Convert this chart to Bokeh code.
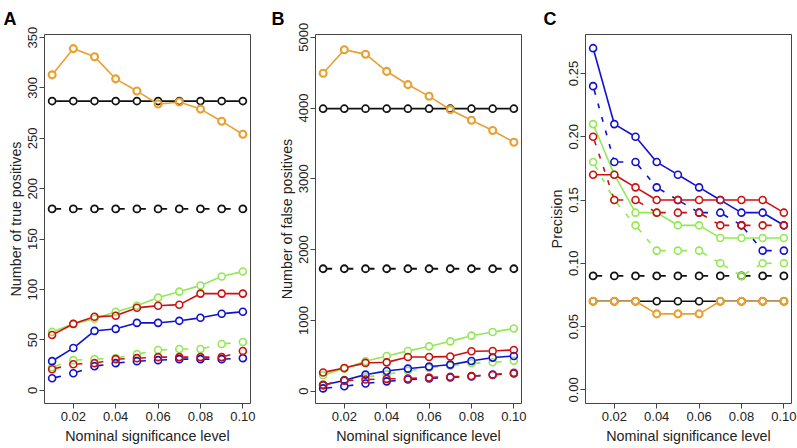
import numpy as np
from bokeh.plotting import figure
from bokeh.layouts import row
from bokeh.models import Range1d, FixedTicker, PrintfTickFormatter, Title
from bokeh.embed import file_html
from bokeh.resources import INLINE

# ---------------- data ----------------
alpha = [0.01, 0.02, 0.03, 0.04, 0.05, 0.06, 0.07, 0.08, 0.09, 0.10]
x_ticks = [0.02, 0.04, 0.06, 0.08, 0.10]

# Panel A: number of true positives
tp_black_solid = [287, 287, 287, 287, 287, 287, 287, 287, 287, 287]
tp_black_dash = [180, 180, 180, 180, 180, 180, 180, 180, 180, 180]
tp_green_solid = [58, 66, 71, 78, 84, 92, 98, 104, 113, 118]
tp_green_dash = [23, 30, 31, 32, 36, 40, 41, 41, 46, 48]
tp_blue_solid = [29, 42, 59, 61, 67, 67, 69, 72, 76, 78]
tp_blue_dash = [12, 17, 24, 27, 29, 30, 31, 31, 31, 32]
tp_red_solid = [55, 66, 73, 74, 82, 84, 85, 96, 96, 96]
tp_red_dash = [21, 26, 27, 31, 32, 33, 33, 33, 33, 39]
tp_orange = [313, 339, 331, 309, 297, 284, 286, 279, 267, 254]
tp_ticks = [0, 50, 100, 150, 200, 250, 300, 350]

# Panel B: number of false positives
fp_black_solid = [3990, 3990, 3990, 3990, 3990, 3990, 3990, 3990, 3990, 3990]
fp_black_dash = [1730, 1730, 1730, 1730, 1730, 1730, 1730, 1730, 1730, 1730]
fp_green_solid = [225, 320, 423, 498, 569, 634, 704, 785, 836, 887]
fp_green_dash = [90, 160, 200, 240, 290, 330, 360, 395, 410, 430]
fp_blue_solid = [85, 155, 235, 287, 320, 348, 376, 428, 475, 498]
fp_blue_dash = [40, 70, 110, 140, 165, 180, 195, 210, 235, 250]
fp_red_solid = [265, 329, 400, 408, 484, 484, 490, 565, 569, 583]
fp_red_dash = [90, 150, 165, 175, 180, 195, 205, 215, 230, 260]
fp_orange = [4490, 4822, 4760, 4517, 4330, 4165, 3977, 3827, 3682, 3517]
fp_ticks = [0, 1000, 2000, 3000, 4000, 5000]

# Panel C: precision
pr_black_solid = [0.07, 0.07, 0.07, 0.07, 0.07, 0.07, 0.07, 0.07, 0.07, 0.07]
pr_black_dash = [0.09, 0.09, 0.09, 0.09, 0.09, 0.09, 0.09, 0.09, 0.09, 0.09]
pr_green_solid = [0.21, 0.17, 0.14, 0.14, 0.13, 0.13, 0.12, 0.12, 0.12, 0.12]
pr_green_dash = [0.18, 0.15, 0.13, 0.11, 0.11, 0.11, 0.10, 0.09, 0.10, 0.10]
pr_blue_solid = [0.27, 0.21, 0.20, 0.18, 0.17, 0.16, 0.15, 0.14, 0.14, 0.13]
pr_blue_dash = [0.24, 0.18, 0.18, 0.16, 0.15, 0.14, 0.14, 0.13, 0.11, 0.11]
pr_red_solid = [0.17, 0.17, 0.16, 0.15, 0.15, 0.15, 0.15, 0.15, 0.15, 0.14]
pr_red_dash = [0.20, 0.15, 0.15, 0.14, 0.14, 0.14, 0.13, 0.13, 0.13, 0.13]
pr_orange = [0.07, 0.07, 0.07, 0.06, 0.06, 0.06, 0.07, 0.07, 0.07, 0.07]
pr_ticks = [0.0, 0.05, 0.10, 0.15, 0.20, 0.25]

x_title = "Nominal significance level"

# ---------------- style ----------------
BLACK = "#111111"
GREEN = "#93e853"
BLUE = "#1010d0"
RED = "#cc1010"
ORANGE = "#e8a030"
FONT = "Liberation Sans"
H = 448
TOP, BOT = 34, 45
XR = (0.0064, 0.1036)
DASH = "5 9"
RADIUS = 4.0


def make_fig(width, left, right, yr, yticks, ylabel, letter, letter_offset, yfmt=None):
    p = figure(width=width, height=H, output_backend="svg", toolbar_location=None,
               x_range=Range1d(*XR), y_range=Range1d(*yr),
               min_border_left=left, min_border_right=right,
               min_border_top=TOP, min_border_bottom=BOT)
    p.xgrid.visible = False
    p.ygrid.visible = False
    p.outline_line_color = "#444444"
    p.outline_line_width = 1
    p.background_fill_color = "white"
    p.border_fill_color = "white"
    for ax in (p.xaxis[0], p.yaxis[0]):
        ax.axis_line_color = None
        ax.major_tick_line_color = "#444444"
        ax.major_tick_in = 0
        ax.major_tick_out = 5
        ax.minor_tick_line_color = None
        ax.major_label_text_font = FONT
        ax.major_label_text_font_size = "13px"
        ax.major_label_text_color = "#222222"
        ax.axis_label_text_font = FONT
        ax.axis_label_text_font_size = "14.3px"
        ax.axis_label_text_font_style = "normal"
        ax.axis_label_text_color = "#222222"
        ax.major_label_standoff = 2
        ax.axis_label_standoff = 2
    p.xaxis[0].ticker = FixedTicker(ticks=x_ticks)
    p.xaxis[0].formatter = PrintfTickFormatter(format="%.2f")
    p.xaxis[0].major_label_standoff = 3
    p.xaxis[0].axis_label_standoff = 4
    p.xaxis[0].axis_label = x_title
    p.yaxis[0].ticker = FixedTicker(ticks=yticks)
    p.yaxis[0].major_label_orientation = "vertical"
    p.yaxis[0].axis_label = ylabel
    if yfmt:
        p.yaxis[0].formatter = PrintfTickFormatter(format=yfmt)
    p.add_layout(Title(text=letter, align="left", offset=letter_offset,
                       text_font=FONT, text_font_size="18px", text_font_style="bold",
                       text_color="black", standoff=11), "above")
    fw = width - left - right
    fh = H - TOP - BOT
    # pixels per data unit (approx frame size)
    p._sx = fw / (XR[1] - XR[0])
    p._sy = fh / (yr[1] - yr[0])
    return p


def series(p, ys, color, dashed, lw, mlw=None):
    x = np.array(alpha, dtype=float)
    y = np.array(ys, dtype=float)
    dx = np.diff(x)
    dy = np.diff(y)
    L = np.hypot(dx * p._sx, dy * p._sy)
    f = np.minimum(RADIUS / L, 0.45)
    p.segment(x[:-1] + f * dx, y[:-1] + f * dy, x[1:] - f * dx, y[1:] - f * dy,
              line_color=color, line_width=lw, line_dash=DASH if dashed else "solid")
    p.scatter(x, y, marker="circle", size=7, fill_color=None,
              line_color=color, line_width=mlw or lw)


def fill(p, d):
    bs, bd, gs, gd, us, ud, rs, rd, o = d
    series(p, bs, BLACK, False, 1.7)
    series(p, bd, BLACK, True, 1.8)
    series(p, gs, GREEN, False, 1.6)
    series(p, gd, GREEN, True, 1.6)
    series(p, us, BLUE, False, 1.6)
    series(p, ud, BLUE, True, 1.6)
    series(p, rs, RED, False, 1.6)
    series(p, rd, RED, True, 1.6)
    series(p, o, ORANGE, False, 1.6, 2.1)


pa = make_fig(265, 44, 15, (-13, 353), tp_ticks, "Number of true positives", "A", -41)
fill(pa, [tp_black_solid, tp_black_dash, tp_green_solid, tp_green_dash, tp_blue_solid,
          tp_blue_dash, tp_red_solid, tp_red_dash, tp_orange])

pb = make_fig(265, 50, 9, (-173, 5038), fp_ticks, "Number of false positives", "B", -44)
fill(pb, [fp_black_solid, fp_black_dash, fp_green_solid, fp_green_dash, fp_blue_solid,
          fp_blue_dash, fp_red_solid, fp_red_dash, fp_orange])

pc = make_fig(267, 55, 6, (-0.0108, 0.2808), pr_ticks, "Precision", "C", -42, yfmt="%.2f")
fill(pc, [pr_black_solid, pr_black_dash, pr_green_solid, pr_green_dash, pr_blue_solid,
          pr_blue_dash, pr_red_solid, pr_red_dash, pr_orange])

layout = row(pa, pb, pc, spacing=0)
open("out.html", "w").write(file_html(layout, INLINE))
